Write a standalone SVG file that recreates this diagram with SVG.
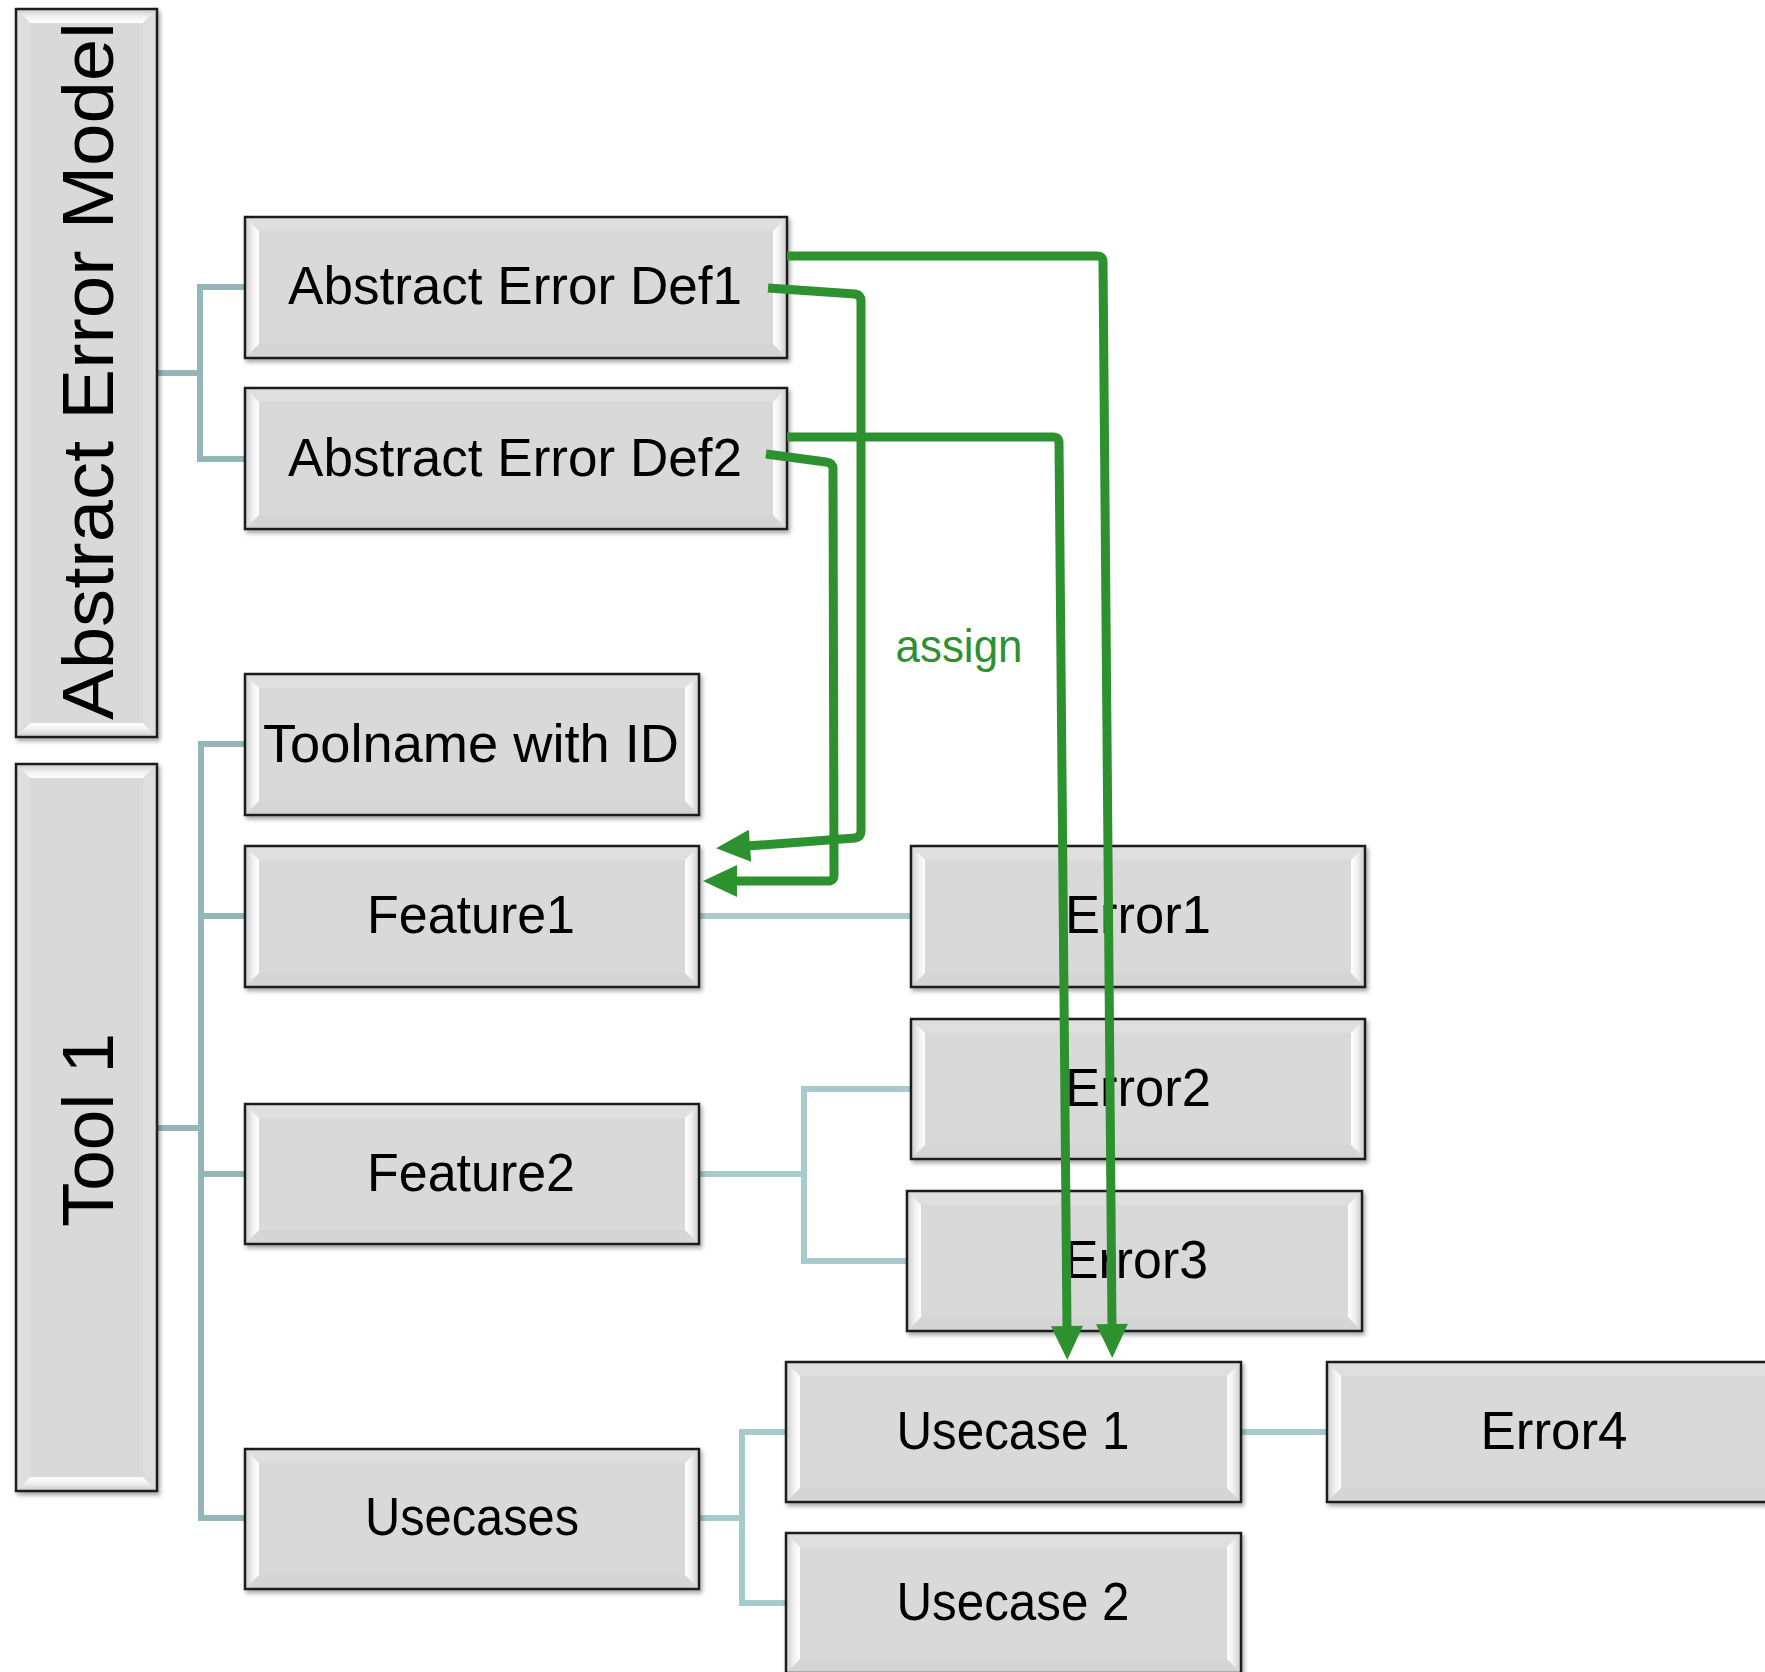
<svg xmlns="http://www.w3.org/2000/svg" width="1765" height="1672" viewBox="0 0 1765 1672">
  <defs>
    <style>
      .box { fill: #d9d9d9; stroke: #1e1e1e; stroke-width: 2.5; filter: url(#sh); }
      .fl { fill: url(#gL); }
      .fr { fill: url(#gR); }
      .ft { fill: #dfdfdf; }
      .fb { fill: #d5d5d5; }
      .vt { fill: url(#gT); }
      .vb { fill: url(#gB); }
      .vs { fill: #dedede; }
      .lbl { font-family: "Liberation Sans", Arial, sans-serif; font-size: 53px; fill: #000; text-anchor: middle; }
      .vlbl { font-family: "Liberation Sans", Arial, sans-serif; font-size: 72px; fill: #000; text-anchor: middle; }
      .tree { fill: none; stroke: #94b6b9; stroke-width: 6; }
      .tree2 { fill: none; stroke: #a7cbcd; stroke-width: 6; }
      .assign { fill: none; stroke: #2e912f; stroke-width: 9; stroke-linejoin: round; marker-end: url(#ah); }
      .assign-lbl { font-family: "Liberation Sans", Arial, sans-serif; font-size: 47px; fill: #2e912f; text-anchor: middle; }
    </style>
    <filter id="sh" x="-5%" y="-5%" width="115%" height="125%">
      <feDropShadow dx="2" dy="3" stdDeviation="2" flood-color="#000" flood-opacity="0.35"/>
    </filter>
    <linearGradient id="gL" x1="0" y1="0" x2="1" y2="0">
      <stop offset="0" stop-color="#d4d4d4"/>
      <stop offset="0.5" stop-color="#f2f2f2"/>
      <stop offset="1" stop-color="#ffffff"/>
    </linearGradient>
    <linearGradient id="gR" x1="1" y1="0" x2="0" y2="0">
      <stop offset="0" stop-color="#d4d4d4"/>
      <stop offset="0.5" stop-color="#f2f2f2"/>
      <stop offset="1" stop-color="#ffffff"/>
    </linearGradient>
    <linearGradient id="gT" x1="0" y1="0" x2="0" y2="1">
      <stop offset="0" stop-color="#d4d4d4"/>
      <stop offset="0.5" stop-color="#f2f2f2"/>
      <stop offset="1" stop-color="#ffffff"/>
    </linearGradient>
    <linearGradient id="gB" x1="0" y1="1" x2="0" y2="0">
      <stop offset="0" stop-color="#d4d4d4"/>
      <stop offset="0.5" stop-color="#f2f2f2"/>
      <stop offset="1" stop-color="#ffffff"/>
    </linearGradient>
    <marker id="ah" markerUnits="userSpaceOnUse" viewBox="-4 -20 40 40" markerWidth="40" markerHeight="40" refX="0" refY="0" orient="auto">
      <path d="M-3,-16 L31,0 L-3,16 Z" fill="#2e912f"/>
    </marker>
  </defs>

  <rect width="1765" height="1672" fill="#ffffff"/>

  <!-- hierarchy connectors -->
  <g id="tree-connectors">
    <path class="tree" d="M157,373 H200 M245,287 H200 V459 H245"/>
    <path class="tree" d="M157,1128 H201 M245,744 H201 V1518 H245 M201,916 H245 M201,1174 H245"/>
    <path class="tree2" d="M699,916 H911"/>
    <path class="tree2" d="M699,1174 H804 M911,1089 H804 V1261 H907"/>
    <path class="tree2" d="M699,1518 H742 M786,1432 H742 V1603 H786"/>
    <path class="tree2" d="M1241,1432 H1327"/>
  </g>

  <!-- vertical group boxes -->
  <g id="abstract-error-model">
    <rect class="box" x="16" y="9" width="141" height="728"/>
    <polygon class="vt" points="18,11 155,11 143,23 30,23"/>
    <polygon class="vb" points="18,735 155,735 143,723 30,723"/>
    <polygon class="vs" points="18,11 30,23 30,723 18,735"/>
    <polygon class="vs" points="155,11 143,23 143,723 155,735"/>
    <text class="vlbl" transform="translate(113,371) rotate(-90)" textLength="698" lengthAdjust="spacingAndGlyphs">Abstract Error Model</text>
  </g>

  <g id="tool1">
    <rect class="box" x="16" y="764" width="141" height="727"/>
    <polygon class="vt" points="18,766 155,766 143,778 30,778"/>
    <polygon class="vb" points="18,1489 155,1489 143,1477 30,1477"/>
    <polygon class="vs" points="18,766 30,778 30,1477 18,1489"/>
    <polygon class="vs" points="155,766 143,778 143,1477 155,1489"/>
    <text class="vlbl" transform="translate(113,1130) rotate(-90)" textLength="194" lengthAdjust="spacingAndGlyphs">Tool 1</text>
  </g>

  <!-- abstract error definitions -->
  <g id="abstract-error-def1">
    <rect class="box" x="245" y="217" width="542" height="141"/>
    <polygon class="ft" points="247,219 785,219 773,231 259,231"/>
    <polygon class="fb" points="247,356 785,356 773,344 259,344"/>
    <polygon class="fl" points="247,219 259,231 259,344 247,356"/>
    <polygon class="fr" points="785,219 773,231 773,344 785,356"/>
    <text class="lbl" x="515" y="304" textLength="454" lengthAdjust="spacingAndGlyphs">Abstract Error Def1</text>
  </g>

  <g id="abstract-error-def2">
    <rect class="box" x="245" y="388" width="542" height="141"/>
    <polygon class="ft" points="247,390 785,390 773,402 259,402"/>
    <polygon class="fb" points="247,527 785,527 773,515 259,515"/>
    <polygon class="fl" points="247,390 259,402 259,515 247,527"/>
    <polygon class="fr" points="785,390 773,402 773,515 785,527"/>
    <text class="lbl" x="515" y="476" textLength="454" lengthAdjust="spacingAndGlyphs">Abstract Error Def2</text>
  </g>

  <!-- tool branches -->
  <g id="toolname">
    <rect class="box" x="245" y="674" width="454" height="141"/>
    <polygon class="ft" points="247,676 697,676 685,688 259,688"/>
    <polygon class="fb" points="247,813 697,813 685,801 259,801"/>
    <polygon class="fl" points="247,676 259,688 259,801 247,813"/>
    <polygon class="fr" points="697,676 685,688 685,801 697,813"/>
    <text class="lbl" x="471" y="762" textLength="416" lengthAdjust="spacingAndGlyphs">Toolname with ID</text>
  </g>

  <g id="feature1">
    <rect class="box" x="245" y="846" width="454" height="141"/>
    <polygon class="ft" points="247,848 697,848 685,860 259,860"/>
    <polygon class="fb" points="247,985 697,985 685,973 259,973"/>
    <polygon class="fl" points="247,848 259,860 259,973 247,985"/>
    <polygon class="fr" points="697,848 685,860 685,973 697,985"/>
    <text class="lbl" x="471" y="933" textLength="208" lengthAdjust="spacingAndGlyphs">Feature1</text>
  </g>

  <g id="feature2">
    <rect class="box" x="245" y="1104" width="454" height="140"/>
    <polygon class="ft" points="247,1106 697,1106 685,1118 259,1118"/>
    <polygon class="fb" points="247,1242 697,1242 685,1230 259,1230"/>
    <polygon class="fl" points="247,1106 259,1118 259,1230 247,1242"/>
    <polygon class="fr" points="697,1106 685,1118 685,1230 697,1242"/>
    <text class="lbl" x="471" y="1191" textLength="208" lengthAdjust="spacingAndGlyphs">Feature2</text>
  </g>

  <g id="usecases">
    <rect class="box" x="245" y="1449" width="454" height="140"/>
    <polygon class="ft" points="247,1451 697,1451 685,1463 259,1463"/>
    <polygon class="fb" points="247,1587 697,1587 685,1575 259,1575"/>
    <polygon class="fl" points="247,1451 259,1463 259,1575 247,1587"/>
    <polygon class="fr" points="697,1451 685,1463 685,1575 697,1587"/>
    <text class="lbl" x="472" y="1535" textLength="214" lengthAdjust="spacingAndGlyphs">Usecases</text>
  </g>

  <!-- errors -->
  <g id="error1">
    <rect class="box" x="911" y="846" width="454" height="141"/>
    <polygon class="ft" points="913,848 1363,848 1351,860 925,860"/>
    <polygon class="fb" points="913,985 1363,985 1351,973 925,973"/>
    <polygon class="fl" points="913,848 925,860 925,973 913,985"/>
    <polygon class="fr" points="1363,848 1351,860 1351,973 1363,985"/>
    <text class="lbl" x="1138" y="933" textLength="146" lengthAdjust="spacingAndGlyphs">Error1</text>
  </g>

  <g id="error2">
    <rect class="box" x="911" y="1019" width="454" height="140"/>
    <polygon class="ft" points="913,1021 1363,1021 1351,1033 925,1033"/>
    <polygon class="fb" points="913,1157 1363,1157 1351,1145 925,1145"/>
    <polygon class="fl" points="913,1021 925,1033 925,1145 913,1157"/>
    <polygon class="fr" points="1363,1021 1351,1033 1351,1145 1363,1157"/>
    <text class="lbl" x="1138" y="1106" textLength="146" lengthAdjust="spacingAndGlyphs">Error2</text>
  </g>

  <g id="error3">
    <rect class="box" x="907" y="1191" width="455" height="140"/>
    <polygon class="ft" points="909,1193 1360,1193 1348,1205 921,1205"/>
    <polygon class="fb" points="909,1329 1360,1329 1348,1317 921,1317"/>
    <polygon class="fl" points="909,1193 921,1205 921,1317 909,1329"/>
    <polygon class="fr" points="1360,1193 1348,1205 1348,1317 1360,1329"/>
    <text class="lbl" x="1136" y="1278" textLength="144" lengthAdjust="spacingAndGlyphs">Error3</text>
  </g>

  <!-- use cases -->
  <g id="usecase1">
    <rect class="box" x="786" y="1362" width="455" height="140"/>
    <polygon class="ft" points="788,1364 1239,1364 1227,1376 800,1376"/>
    <polygon class="fb" points="788,1500 1239,1500 1227,1488 800,1488"/>
    <polygon class="fl" points="788,1364 800,1376 800,1488 788,1500"/>
    <polygon class="fr" points="1239,1364 1227,1376 1227,1488 1239,1500"/>
    <text class="lbl" x="1013" y="1449" textLength="233" lengthAdjust="spacingAndGlyphs">Usecase 1</text>
  </g>

  <g id="usecase2">
    <rect class="box" x="786" y="1533" width="455" height="140"/>
    <polygon class="ft" points="788,1535 1239,1535 1227,1547 800,1547"/>
    <polygon class="fb" points="788,1671 1239,1671 1227,1659 800,1659"/>
    <polygon class="fl" points="788,1535 800,1547 800,1659 788,1671"/>
    <polygon class="fr" points="1239,1535 1227,1547 1227,1659 1239,1671"/>
    <text class="lbl" x="1013" y="1620" textLength="233" lengthAdjust="spacingAndGlyphs">Usecase 2</text>
  </g>

  <g id="error4">
    <rect class="box" x="1327" y="1362" width="454" height="140"/>
    <polygon class="ft" points="1329,1364 1779,1364 1767,1376 1341,1376"/>
    <polygon class="fb" points="1329,1500 1779,1500 1767,1488 1341,1488"/>
    <polygon class="fl" points="1329,1364 1341,1376 1341,1488 1329,1500"/>
    <polygon class="fr" points="1779,1364 1767,1376 1767,1488 1779,1500"/>
    <text class="lbl" x="1554" y="1449" textLength="147" lengthAdjust="spacingAndGlyphs">Error4</text>
  </g>

  <!-- assignment arrows -->
  <g id="assign-connectors">
    <path class="assign" d="M787,256 L1097,256 Q1103,256 1103,262 L1112,1327"/>
    <path class="assign" d="M787,437 L1053,437 Q1059,437 1059,443 L1067,1329"/>
    <path class="assign" d="M768,288 L855,294 Q861,295 861,301 L861,831 Q861,837 855,838 L747,846"/>
    <path class="assign" d="M766,454 L826,462 Q833,463 833,469 L834,875 Q834,881 828,881 L734,881"/>
    <text class="assign-lbl" x="959" y="662" textLength="127" lengthAdjust="spacingAndGlyphs">assign</text>
  </g>
</svg>
